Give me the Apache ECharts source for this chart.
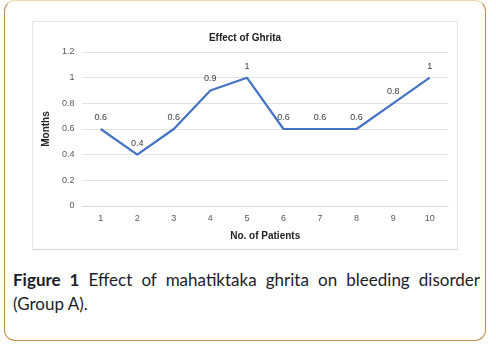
<!DOCTYPE html>
<html><head><meta charset="utf-8">
<script src="https://cdn.jsdelivr.net/npm/echarts@6/dist/echarts.min.js"></script>
<style>
html,body{margin:0;padding:0;background:#fff;width:496px;height:344px;overflow:hidden;}
#outer{position:absolute;left:4px;top:0px;width:482px;height:341px;border:1px solid #c48f4c;border-top-color:#ecd7b6;border-radius:11px;box-sizing:border-box;}
#chartbox{position:absolute;left:32px;top:21px;width:426px;height:229px;border:1px solid #e6e6e6;border-bottom-color:#d4d4d4;box-sizing:border-box;}
#chart{position:absolute;left:0;top:0;width:424px;height:227px;}
#cap{position:absolute;left:13px;top:268px;width:467px;font-family:"Lato","Open Sans",sans-serif;font-size:17px;line-height:24px;color:#1c1c28;text-align:justify;text-align-last:left;}
</style></head>
<body>
<div id="outer"></div>
<div id="chartbox"><div id="chart"></div></div>
<div id="cap"><b>Figure 1</b> Effect of mahatiktaka ghrita on bleeding disorder (Group A).</div>
<script>
var categories = ['1','2','3','4','5','6','7','8','9','10'];
var values = [0.6,0.4,0.6,0.9,1,0.6,0.6,0.6,0.8,1];
var yTicks = [0,0.2,0.4,0.6,0.8,1,1.2];
var chart = echarts.init(document.getElementById('chart'));
var font = 'Liberation Sans';
chart.setOption({
  animation:false,
  title:{text:'Effect of Ghrita',left:'center',top:6,textStyle:{fontFamily:font,fontSize:10,fontWeight:'bold',color:'#222'}},
  grid:{left:46,right:9,top:30,bottom:43},
  xAxis:{type:'category',data:categories,boundaryGap:true,
    name:'No. of Patients',nameLocation:'middle',nameGap:25,
    nameTextStyle:{fontFamily:font,fontSize:10,fontWeight:'bold',color:'#222'},
    axisLine:{lineStyle:{color:'#d9d9d9'}},axisTick:{show:false},
    axisLabel:{fontFamily:font,fontSize:9,color:'#595959',margin:8}},
  yAxis:{type:'value',min:0,max:1.2,interval:0.2,
    name:'Months',nameLocation:'middle',nameGap:26,
    nameTextStyle:{fontFamily:font,fontSize:10,fontWeight:'bold',color:'#222'},
    axisLine:{show:false},axisTick:{show:false},
    splitLine:{lineStyle:{color:'#e3e3e3'}},
    axisLabel:{fontFamily:font,fontSize:9,color:'#595959',margin:8,
      formatter:function(v){var r=Math.round(v*10)/10;return yTicks.indexOf(r)>=0?String(r):'';}}},
  series:[{type:'line',data:values,symbol:'circle',symbolSize:2,showSymbol:true,
    itemStyle:{color:'rgba(0,0,0,0)',borderWidth:0},
    lineStyle:{color:'#4472c4',width:2.2},
    label:{show:true,position:'top',distance:6,fontFamily:font,fontSize:9,color:'#404040'}}]
});
</script>
</body></html>
